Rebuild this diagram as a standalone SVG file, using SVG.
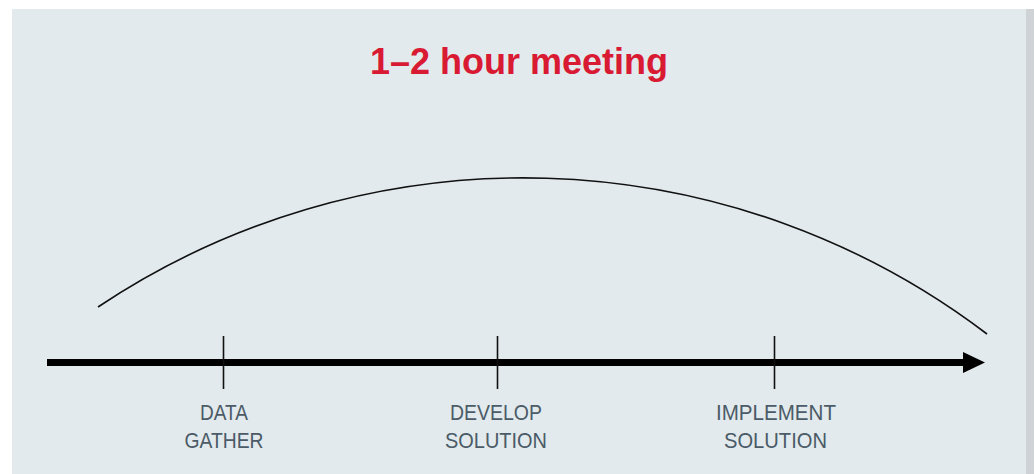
<svg xmlns="http://www.w3.org/2000/svg" width="1034" height="474" viewBox="0 0 1034 474">
  <style>
    .title { font-family: "Liberation Sans", Arial, sans-serif; font-weight: bold; font-size: 36px; fill: #d91a33; }
    .label { font-family: "Liberation Sans", Arial, sans-serif; font-size: 21.5px; fill: #4b5b67; }
    .tick { stroke: #111; stroke-width: 1.6; }
  </style>
  <rect x="0" y="0" width="1034" height="474" fill="#ffffff"/>
  <rect x="1026" y="9" width="8" height="465" fill="#cfd3d5"/>
  <rect x="12" y="9" width="1014" height="465" fill="#e2eaed"/>
  <text class="title" x="519" y="74" text-anchor="middle">1–2 hour meeting</text>
  <g id="connectors">
    <path d="M98 307 A766 766 0 0 1 987 334" fill="none" stroke="#111" stroke-width="1.6"/>
    <line x1="47" y1="362.5" x2="964" y2="362.5" stroke="#000" stroke-width="7"/>
    <polygon points="963,352 985,362.5 963,373" fill="#000"/>
  </g>
  <g id="node-data-gather">
    <line class="tick" x1="223.5" y1="336" x2="223.5" y2="389"/>
    <text class="label" text-anchor="middle"><tspan x="224" y="419.5" textLength="48" lengthAdjust="spacingAndGlyphs">DATA</tspan><tspan x="224" y="447.5" textLength="79" lengthAdjust="spacingAndGlyphs">GATHER</tspan></text>
  </g>
  <g id="node-develop-solution">
    <line class="tick" x1="497.5" y1="336" x2="497.5" y2="389"/>
    <text class="label" text-anchor="middle"><tspan x="496" y="419.5" textLength="92" lengthAdjust="spacingAndGlyphs">DEVELOP</tspan><tspan x="496" y="447.5" textLength="102" lengthAdjust="spacingAndGlyphs">SOLUTION</tspan></text>
  </g>
  <g id="node-implement-solution">
    <line class="tick" x1="774.5" y1="336" x2="774.5" y2="389"/>
    <text class="label" text-anchor="middle"><tspan x="776" y="419.5" textLength="120" lengthAdjust="spacingAndGlyphs">IMPLEMENT</tspan><tspan x="775.5" y="447.5" textLength="103" lengthAdjust="spacingAndGlyphs">SOLUTION</tspan></text>
  </g>
</svg>
